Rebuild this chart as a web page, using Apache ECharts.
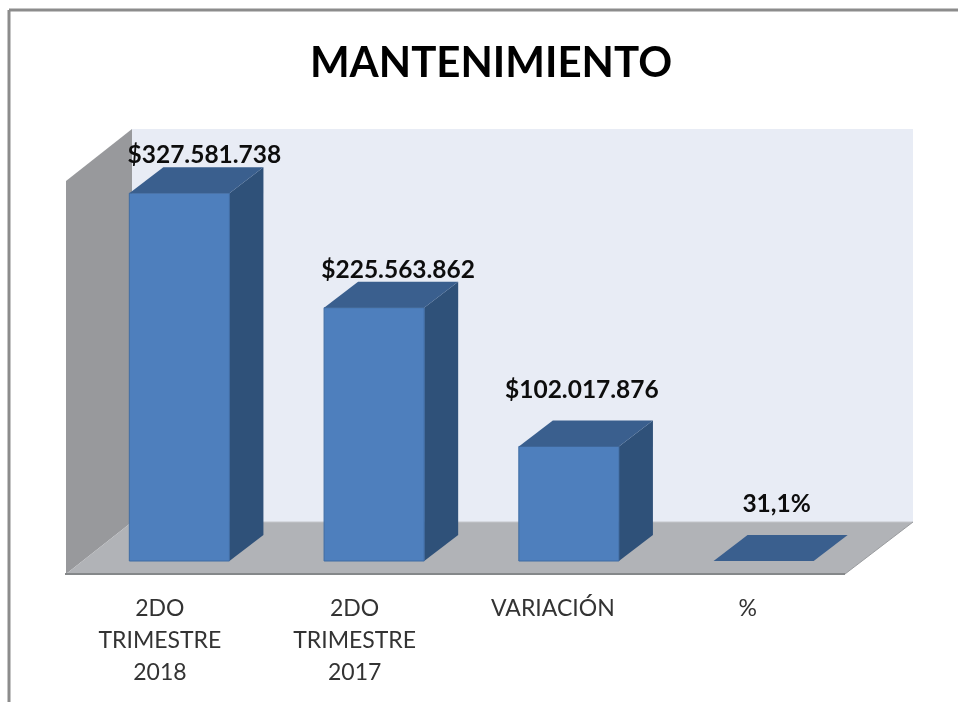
<!DOCTYPE html>
<html>
<head>
<meta charset="utf-8">
<title>MANTENIMIENTO</title>
<script src="https://cdnjs.cloudflare.com/ajax/libs/echarts/6.0.0/echarts.min.js"></script>
<style>
    html, body { margin: 0; padding: 0; background: #fff; }
    #chart { width: 958px; height: 702px; }
</style>
</head>
<body>
<div id="chart"></div>
<script>
    var categories = ['2DO\nTRIMESTRE\n2018', '2DO\nTRIMESTRE\n2017', 'VARIACIÓN', '%'];
    var values = [327581738, 225563862, 102017876, 0.311];
    var valueLabels = ['$327.581.738', '$225.563.862', '$102.017.876', '31,1%'];
    var axisMax = 350000000;

    // label placement was done by hand in the original, so it differs per bar
    var labelShift = [[25, -12], [24, -12], [13, -30], [13, -31]];

    var FLOOR_DX = 66, FLOOR_DY = 52;   // depth of the floor
    var BAR_DX = 34, BAR_DY = 26;       // depth of a bar

    function poly(points, fill, stroke) {
        return {
            type: 'polygon',
            shape: { points: points },
            style: { fill: fill, stroke: stroke || null, lineWidth: stroke ? 1 : 0 }
        };
    }

    // walls and floor
    function renderFrame(params, api) {
        var c = params.coordSys;
        var l = c.x, r = c.x + c.width, t = c.y, b = c.y + c.height;
        var dx = FLOOR_DX, dy = FLOOR_DY;
        var rb = r + dx + 2;    // back edge runs a little further than the front one
        return {
            type: 'group',
            children: [
                poly([[l + dx, t - dy], [rb, t - dy], [rb, b - dy], [l + dx, b - dy]], '#e8ecf5'),
                poly([[l, t], [l + dx, t - dy], [l + dx, b - dy], [l, b]], '#98999c'),
                poly([[l, b], [l + dx, b - dy], [rb, b - dy], [r, b]], '#b1b3b7'),
                { type: 'line', shape: { x1: l + dx, y1: b - dy, x2: rb, y2: b - dy }, style: { stroke: '#c4c6ca', lineWidth: 1 } },
                { type: 'line', shape: { x1: r, y1: b, x2: rb, y2: b - dy }, style: { stroke: '#9a9c9f', lineWidth: 1 } },
                { type: 'line', shape: { x1: l - 1, y1: b, x2: r, y2: b }, style: { stroke: '#85888a', lineWidth: 2 } }
            ]
        };
    }

    // one bar: front, side and top faces
    function renderBar(params, api) {
        var i = params.dataIndex;
        var base = api.coord([api.value(0), 0]);
        var top = api.coord([api.value(0), api.value(1)]);
        var w = api.size([1, 0])[0] * 0.514;
        // bars stand in the middle of the floor depth
        var x0 = base[0] - w / 2 + (FLOOR_DX - BAR_DX) / 2;
        var x1 = x0 + w;
        var yb = base[1] - (FLOOR_DY - BAR_DY) / 2;
        var yt = top[1] - (FLOOR_DY - BAR_DY) / 2;
        var dx = BAR_DX, dy = BAR_DY;
        var children = [];
        if (yb - yt > 1) {
            children.push(poly([[x1, yt], [x1 + dx, yt - dy], [x1 + dx, yb - dy], [x1, yb]], '#2f5179'));
            children.push(poly([[x0, yt], [x1, yt], [x1, yb], [x0, yb]], '#4e7fbd', '#3f6ca3'));
        }
        children.push(poly([[x0, yt], [x0 + dx, yt - dy], [x1 + dx, yt - dy], [x1, yt]], '#3a5f8e'));
        children.push({
            type: 'text',
            z2: 10,
            style: {
                x: (x0 + x1) / 2 + labelShift[i][0],
                y: yt - dy + labelShift[i][1],
                text: valueLabels[i],
                fill: '#0d0d0d',
                font: 'bold 24.5px Lato',
                align: 'center',
                verticalAlign: 'middle'
            }
        });
        return { type: 'group', children: children };
    }

    var myChart = echarts.init(document.getElementById('chart'), null, { renderer: 'canvas' });

    var option = {
        animation: false,
        backgroundColor: '#fff',
        title: {
            text: 'MANTENIMIENTO',
            left: 486,
            top: 37,
            textAlign: 'center',
            textStyle: { fontFamily: 'Lato', fontWeight: 'bold', fontSize: 42, color: '#000' }
        },
        // outer chart border, only top and left are inside the picture
        graphic: [
            { type: 'line', shape: { x1: 9, y1: 10, x2: 958, y2: 10 }, style: { stroke: '#8c8c8c', lineWidth: 3 } },
            { type: 'line', shape: { x1: 9, y1: 10, x2: 9, y2: 702 }, style: { stroke: '#8c8c8c', lineWidth: 3 } }
        ],
        grid: { left: 66, top: 181, width: 779, height: 393 },
        xAxis: {
            type: 'category',
            // the two wrapped labels sit a few px left of their band
            data: categories.map(function (c) {
                return c.indexOf('\n') < 0 ? c : { value: c, textStyle: { padding: [0, 7, 0, 0] } };
            }),
            axisLine: { show: false },
            axisTick: { show: false },
            axisLabel: {
                interval: 0,
                margin: 19,
                fontFamily: 'Lato',
                fontSize: 23,
                lineHeight: 32,
                color: '#333'
            }
        },
        yAxis: { type: 'value', min: 0, max: axisMax, show: false, splitLine: { show: false } },
        series: [
            {
                type: 'custom',
                name: 'frame',
                silent: true,
                z: 1,
                renderItem: renderFrame,
                data: [[0, 0]],
                encode: { x: 0, y: 1 }
            },
            {
                type: 'custom',
                name: 'MANTENIMIENTO',
                z: 2,
                renderItem: renderBar,
                data: values.map(function (v, i) { return [i, v]; }),
                encode: { x: 0, y: 1 }
            }
        ]
    };

    myChart.setOption(option);
</script>
</body>
</html>
